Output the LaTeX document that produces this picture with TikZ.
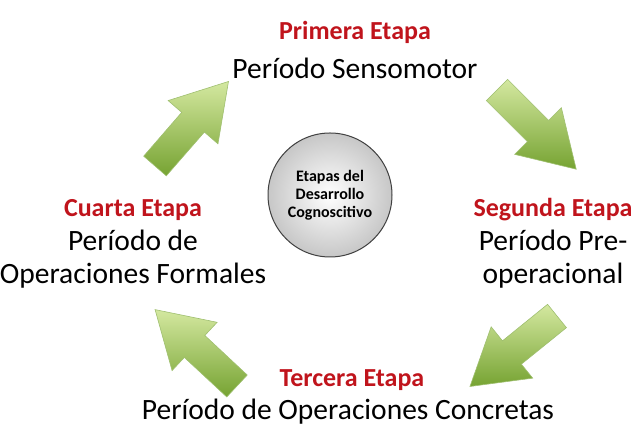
\documentclass[tikz,border=0pt]{standalone}
\usepackage{fontspec}
\setmainfont{Carlito}
\definecolor{redt}{HTML}{C0141C}
\definecolor{gl}{HTML}{D4E8A0}
\definecolor{gd}{HTML}{76A332}
\begin{document}
\begin{tikzpicture}[x=1pt,y=1pt,
  head/.style={text=redt,font=\fontsize{26}{30}\selectfont\bfseries},
  body/.style={font=\fontsize{29.5}{33}\selectfont,align=center},
  garrow/.style={top color=gl,bottom color=gd,draw=gd!70!white,line width=0.6pt}]
\useasboundingbox (0,0) rectangle (640,438);
\newcommand{\barrow}[3]{\begin{scope}[shift={(#1,#2)},rotate=#3]
 \path[garrow] (0,-15)--(58,-15)--(58,-33)--(112,0)--(58,33)--(58,15)--(0,15)--cycle;
\end{scope}}
\barrow{497}{348}{-45}
\barrow{557}{122}{219}
\barrow{237}{52}{137}
\barrow{155}{272}{49}
\node[circle,minimum size=124,draw=black!75,line width=1pt,inner color=white,outer color=black!22] (c) at (330,243) {};
\node[font=\fontsize{16}{18}\selectfont\bfseries,align=center] (ct) at (c) {Etapas del\\Desarrollo\\Cognoscitivo};
\node[head] (h1) at (355,406) {Primera Etapa};
\node[body] (b1) at (355,370) {Período Sensomotor};
\node[head] (h2) at (553,228) {Segunda Etapa};
\node[body] (b2) at (553,179) {Período Pre-\\operacional};
\node[head] (h3) at (352,58) {Tercera Etapa};
\node[body] (b3) at (348,26) {Período de Operaciones Concretas};
\node[head] (h4) at (133,228) {Cuarta Etapa};
\node[body] (b4) at (133,179) {Período de\\Operaciones Formales};
\end{tikzpicture}
\end{document}
